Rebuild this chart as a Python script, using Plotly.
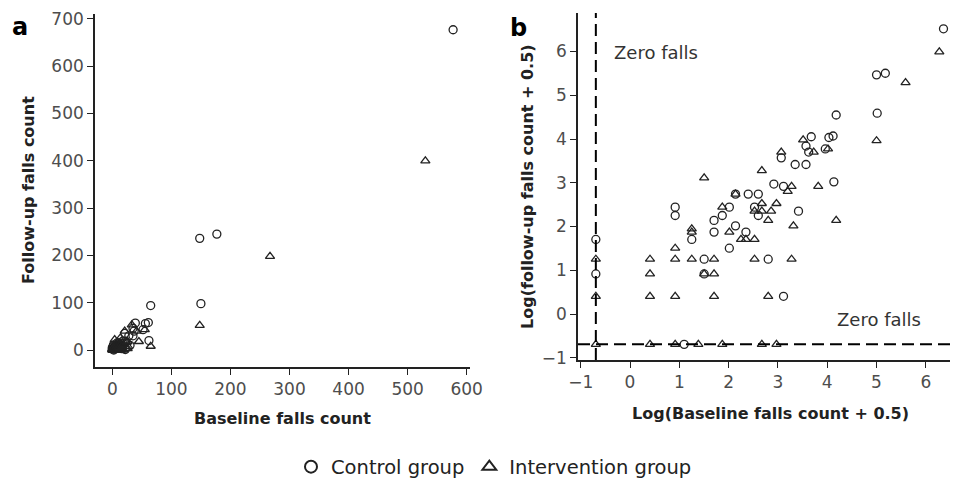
import numpy as np
import plotly.graph_objects as go

# ---- data (falls counts) ----
ctrl_baseline = [0, 0, 2, 2, 2.5, 22, 4, 4, 16, 3, 5, 5, 6, 7, 8, 7, 10, 8, 10.5, 13,
                 12, 13, 30, 18, 22, 62, 28, 35, 21, 39, 35, 37, 52, 56, 61, 65, 148, 177, 150, 577]
ctrl_followup = [5, 2, 11, 9, 0, 1, 3, 2, 3, 5, 8, 6, 9, 11, 7, 4, 6, 15, 15, 15,
                 11, 9, 10, 19, 18, 20, 30, 30, 35, 57, 46, 40, 43, 56, 58, 94, 236, 245, 98, 677]
int_baseline = [0, 0, 0, 1, 2, 3.5, 6, 14, 19, 1, 2, 5, 16, 1, 4, 5, 1, 2, 3, 5, 12, 26,
                2, 4, 3, 3, 6, 7, 9, 10, 12, 8, 12, 14, 14, 17, 19, 16, 27, 24, 26, 45, 65,
                14, 21, 33, 41, 55, 148, 267, 530]
int_followup = [3, 1, 0, 0, 0, 0, 0, 0, 0, 1, 1, 1, 1, 2, 2, 2, 3, 3, 3, 3, 3, 3,
                4, 22, 6, 6.5, 11, 6, 5, 5, 5, 15, 10, 12, 10, 10, 12, 8, 7, 16, 18, 18, 8,
                26, 40, 53, 40, 43, 52, 198, 400]

group_names = ["Control group", "Intervention group"]
ticks_a_x = [0, 100, 200, 300, 400, 500, 600]
ticks_a_y = [0, 100, 200, 300, 400, 500, 600, 700]
ticks_b = [-1, 0, 1, 2, 3, 4, 5, 6]


def lg(v):
    return np.log(np.asarray(v, dtype=float) + 0.5)


OFF = 8  # page body margin
W, H = 958 - OFF, 487 - OFF
FONT = "DejaVu Sans"
INK = "#222222"
TICKC = "#4d4d4d"


def px_x(p):
    return (p - OFF) / W


def px_y(p):
    return 1 - (p - OFF) / H


fig = go.Figure()
mk_c = dict(symbol="circle-open", size=8, color=INK, line=dict(width=1.3, color=INK))
mk_t = dict(symbol="triangle-up-open", size=8, color=INK, line=dict(width=1.3, color=INK))

fig.add_trace(go.Scatter(x=ctrl_baseline, y=ctrl_followup, mode="markers", marker=mk_c,
                         name=group_names[0], xaxis="x", yaxis="y", legendgroup="c"))
fig.add_trace(go.Scatter(x=int_baseline, y=int_followup, mode="markers", marker=mk_t,
                         name=group_names[1], xaxis="x", yaxis="y", legendgroup="t"))
fig.add_trace(go.Scatter(x=lg(ctrl_baseline), y=lg(ctrl_followup), mode="markers", marker=mk_c,
                         name=group_names[0], xaxis="x2", yaxis="y2", showlegend=False, legendgroup="c"))
fig.add_trace(go.Scatter(x=lg(int_baseline), y=lg(int_followup), mode="markers", marker=mk_t,
                         name=group_names[1], xaxis="x2", yaxis="y2", showlegend=False, legendgroup="t"))

axis_common = dict(showline=True, linecolor=INK, linewidth=1.6, ticks="outside", ticklen=6,
                   tickwidth=1.4, tickcolor=INK, showgrid=False, zeroline=False,
                   automargin=False,
                   tickfont=dict(family=FONT, size=17, color=TICKC))

fig.update_layout(
    width=W, height=H, margin=dict(l=0, r=0, t=0, b=0, autoexpand=False),
    paper_bgcolor="white", plot_bgcolor="white",
    xaxis=dict(domain=[px_x(95), px_x(470)], range=[-29.3, 605.6], tickvals=ticks_a_x,
               anchor="y", **axis_common),
    yaxis=dict(domain=[px_y(367), px_y(14)], range=[-35.9, 710.3], tickvals=ticks_a_y,
               anchor="x", **axis_common),
    xaxis2=dict(domain=[px_x(578), 1.0], range=[-1.055, 6.653], tickvals=ticks_b,
                anchor="y2", **axis_common),
    yaxis2=dict(domain=[px_y(360), px_y(13)], range=[-1.051, 6.88], tickvals=ticks_b,
                anchor="x2", **axis_common),
    showlegend=True,
    legend=dict(orientation="h", x=px_x(494), xanchor="center", y=px_y(467), yanchor="middle",
                font=dict(family=FONT, size=19.5, color=INK), itemsizing="constant",
                bgcolor="rgba(0,0,0,0)"),
)

zero = float(np.log(0.5))
fig.add_shape(type="line", xref="x2", yref="y2 domain", x0=zero, x1=zero, y0=0, y1=1,
              line=dict(color="black", width=2, dash="12px,6px"))
fig.add_shape(type="line", xref="x2 domain", yref="y2", x0=0, x1=1, y0=zero, y1=zero,
              line=dict(color="black", width=2, dash="12px,6px"))

ann = []


def paper_text(text, x, y, size, angle=0, color=INK):
    ann.append(dict(text=text, x=px_x(x), y=px_y(y), xref="paper", yref="paper",
                    xanchor="center", yanchor="middle", textangle=angle, showarrow=False,
                    font=dict(family=FONT, size=size, color=color)))


paper_text("<b>a</b>", 20, 27, 24, color="black")
paper_text("<b>b</b>", 518, 28, 24, color="black")
paper_text("<b>Follow-up falls count</b>", 28, 190, 16, angle=-90)
paper_text("<b>Baseline falls count</b>", 282, 418, 16)
paper_text("<b>Log(follow-up falls count + 0.5)</b>", 527, 187, 16, angle=-90)
paper_text("<b>Log(Baseline falls count + 0.5)</b>", 770, 413, 16)

ann.append(dict(text="Zero falls", x=-0.37, y=5.97, xref="x2", yref="y2", xanchor="left",
                yanchor="middle", showarrow=False,
                font=dict(family=FONT, size=18, color="#333333")))
ann.append(dict(text="Zero falls", x=4.16, y=-0.12, xref="x2", yref="y2", xanchor="left",
                yanchor="middle", showarrow=False,
                font=dict(family=FONT, size=18, color="#333333")))
fig.update_layout(annotations=ann)

fig.write_html("out.html")
